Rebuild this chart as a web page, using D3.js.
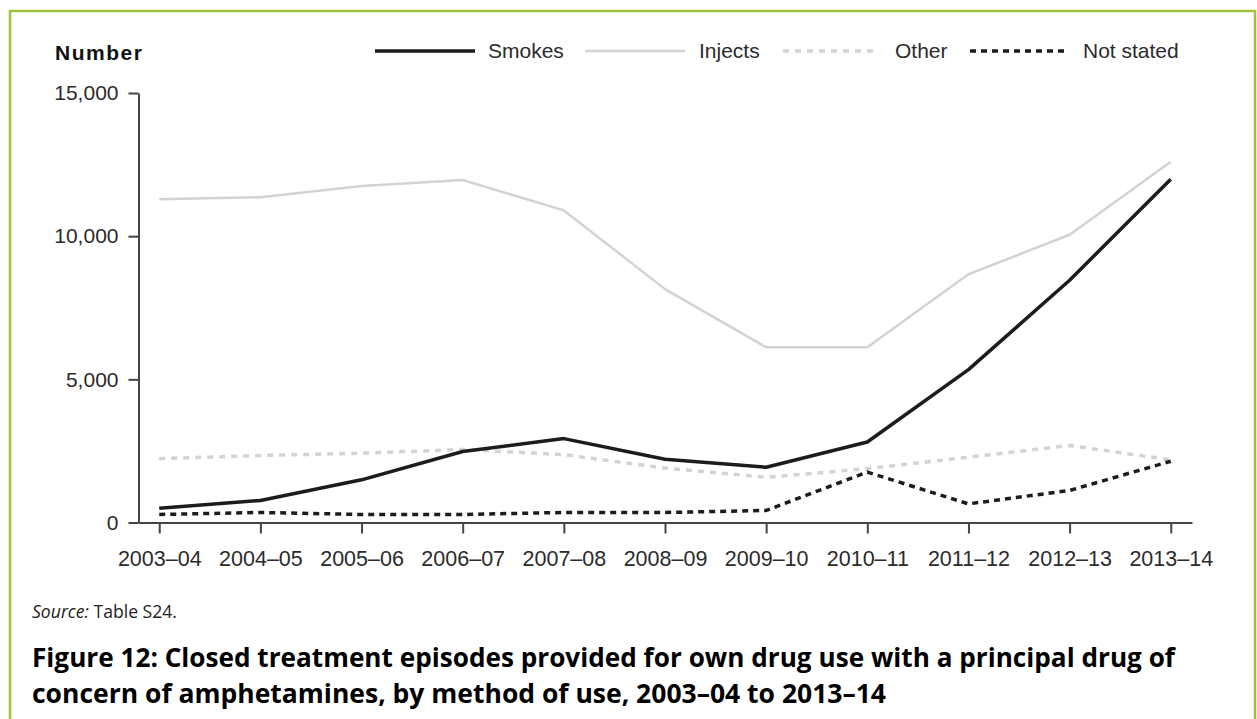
<!DOCTYPE html>
<html>
<head>
<meta charset="utf-8">
<script src="https://cdn.jsdelivr.net/npm/d3@7"></script>
<style>
  body { margin: 0; background: #fff; }
  svg { display: block; }
</style>
</head>
<body>
<svg id="chart" width="1257" height="719"></svg>
<script>
// ---- data ----
const categories = ["2003–04","2004–05","2005–06","2006–07","2007–08","2008–09","2009–10","2010–11","2011–12","2012–13","2013–14"];
const smokes    = [500, 770, 1490, 2480, 2930, 2210, 1930, 2810, 5340, 8460, 11990];
const injects   = [11290, 11360, 11750, 11960, 10900, 8150, 6120, 6120, 8670, 10050, 12600];
const other     = [2230, 2340, 2420, 2550, 2370, 1900, 1580, 1880, 2280, 2690, 2190];
const notStated = [280, 350, 280, 280, 350, 350, 420, 1760, 650, 1120, 2140];
const yTicks = [0, 5000, 10000, 15000];
const seriesNames = ["Smokes", "Injects", "Other", "Not stated"];
const yTitle = "Number";
const sourceLabel = "Source:";
const sourceText = " Table S24.";
const titleLines = [
  "Figure 12: Closed treatment episodes provided for own drug use with a principal drug of",
  "concern of amphetamines, by method of use, 2003–04 to 2013–14"
];

// ---- styles ----
const styles = {
  "Smokes":     { stroke: "#1c1c1c", width: 3.5, dash: null },
  "Injects":    { stroke: "#d3d3d3", width: 2.5, dash: null },
  "Other":      { stroke: "#d3d3d3", width: 3.5, dash: "6,6" },
  "Not stated": { stroke: "#1c1c1c", width: 3.5, dash: "6,5" }
};
const seriesData = { "Smokes": smokes, "Injects": injects, "Other": other, "Not stated": notStated };

const svg = d3.select("#chart");
const axisColor = "#444";
const textColor = "#2b2b2b";
const labelFont = "'Liberation Sans', Arial, Helvetica, sans-serif";

// frame
svg.append("path")
  .attr("d", "M10,719 V11 H1255 V719")
  .attr("fill", "none")
  .attr("stroke", "#9ec23c")
  .attr("stroke-width", 2.5);

// scales
const x = d3.scalePoint().domain(categories).range([138, 1192]).padding(0.21);
const y = d3.scaleLinear().domain([0, 15000]).range([522.5, 93]);

// y axis
const yAxis = svg.append("g")
  .attr("transform", "translate(138.5,0)")
  .call(d3.axisLeft(y).tickValues(yTicks).tickFormat(d3.format(",")).tickSize(10).tickSizeOuter(0).tickPadding(10));
// x axis
const xAxis = svg.append("g")
  .attr("transform", `translate(0,${y(0)})`)
  .call(d3.axisBottom(x).tickSize(11).tickSizeOuter(0).tickPadding(17));

[yAxis, xAxis].forEach(g => {
  g.select(".domain").attr("stroke", axisColor).attr("stroke-width", 2);
  g.selectAll(".tick line").attr("stroke", axisColor).attr("stroke-width", 2);
  g.selectAll(".tick text")
    .attr("fill", textColor)
    .style("font-family", labelFont);
});
yAxis.selectAll(".tick text").style("font-size", "21px");
xAxis.selectAll(".tick text").style("font-size", "21.5px");

// y title
svg.append("text")
  .attr("x", 55).attr("y", 60)
  .attr("fill", "#111")
  .style("font-family", labelFont)
  .style("font-weight", "bold")
  .style("font-size", "21px")
  .style("letter-spacing", "1.5px")
  .text(yTitle);

// lines
const line = d3.line()
  .x((d, i) => x(categories[i]))
  .y(d => y(d));

// draw order: injects, other, not stated, smokes
["Injects", "Other", "Not stated", "Smokes"].forEach(name => {
  const s = styles[name];
  svg.append("path")
    .datum(seriesData[name])
    .attr("d", line)
    .attr("fill", "none")
    .attr("stroke", s.stroke)
    .attr("stroke-width", s.width)
    .attr("stroke-dasharray", s.dash)
    .attr("stroke-linejoin", "round");
});

// legend
const legendItems = [
  { name: "Smokes",     x0: 375, x1: 475, tx: 488 },
  { name: "Injects",    x0: 585, x1: 685, tx: 699 },
  { name: "Other",      x0: 783, x1: 876, tx: 895 },
  { name: "Not stated", x0: 970, x1: 1064, tx: 1083 }
];
const legend = svg.append("g");
legendItems.forEach(it => {
  const s = styles[it.name];
  legend.append("line")
    .attr("x1", it.x0).attr("x2", it.x1)
    .attr("y1", 51).attr("y2", 51)
    .attr("stroke", s.stroke)
    .attr("stroke-width", s.width)
    .attr("stroke-dasharray", s.dash);
  legend.append("text")
    .attr("x", it.tx).attr("y", 58)
    .attr("fill", textColor)
    .style("font-family", labelFont)
    .style("font-size", "21px")
    .text(it.name);
});

// source
const src = svg.append("text")
  .attr("x", 32).attr("y", 618)
  .attr("fill", "#222")
  .style("font-family", "'Open Sans', 'Noto Sans', sans-serif")
  .style("font-size", "19px")
  .attr("textLength", 145)
  .attr("lengthAdjust", "spacingAndGlyphs");
src.append("tspan").style("font-style", "italic").text(sourceLabel);
src.append("tspan").text(sourceText);

// title
const titleWidths = [1143, 854];
titleLines.forEach((t, i) => {
  svg.append("text")
    .attr("x", 32).attr("y", 667 + i * 36)
    .attr("fill", "#000")
    .style("font-family", "'Open Sans', 'Noto Sans', sans-serif")
    .style("font-weight", "bold")
    .style("font-size", "27px")
    .attr("textLength", titleWidths[i])
    .attr("lengthAdjust", "spacingAndGlyphs")
    .text(t);
});
</script>
</body>
</html>
